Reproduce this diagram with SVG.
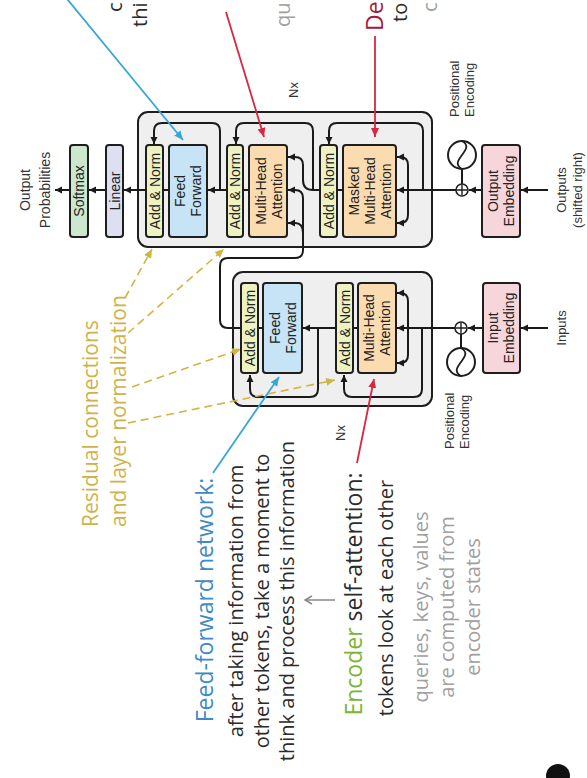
<svg xmlns="http://www.w3.org/2000/svg" width="587" height="778" viewBox="0 0 587 778">
<defs>
<style>
.bg{fill:#ffffff}
.outer{fill:#efefef;stroke:#1e1e1e;stroke-width:2}
.box{stroke:#1e1e1e;stroke-width:2}
.an{fill:#eef2c2}
.ff{fill:#c6e4f5}
.mha{fill:#fbdcb0}
.sm{fill:#cbe8cf}
.lin{fill:#dedff0}
.emb{fill:#f6d6db}
.lbl{font-family:"Liberation Sans",Arial,sans-serif;font-size:14px;fill:#222;text-anchor:middle}
.side{font-family:"Liberation Sans",Arial,sans-serif;font-size:13px;fill:#333}
.c{fill:none;stroke:#1a1a1a;stroke-width:2}
.ann{font-family:"Open Sans","Noto Sans",sans-serif;font-size:20px;fill:#2b2b2b}
.head{font-size:23px}
.gold{fill:#cfb34a}
.gray{fill:#a0a0a0}
.gl{fill:none;stroke:#d2b443;stroke-width:1.6;stroke-dasharray:8 5}
.bl{fill:none;stroke:#38a6d6;stroke-width:1.8}
.rl{fill:none;stroke:#d8283f;stroke-width:1.8}
</style>
<marker id="ah" markerUnits="userSpaceOnUse" markerWidth="8" markerHeight="8" refX="7" refY="4" orient="auto"><path d="M0,0.5 L7,4 L0,7.5 z" fill="#1a1a1a"/></marker>
<marker id="ahb" markerUnits="userSpaceOnUse" markerWidth="10" markerHeight="10" refX="9" refY="5" orient="auto"><path d="M0,1 L9,5 L0,9 z" fill="#38a6d6"/></marker>
<marker id="ahr" markerUnits="userSpaceOnUse" markerWidth="10" markerHeight="10" refX="9" refY="5" orient="auto"><path d="M0,1 L9,5 L0,9 z" fill="#d8283f"/></marker>
<marker id="ahg" markerUnits="userSpaceOnUse" markerWidth="10" markerHeight="10" refX="9" refY="5" orient="auto"><path d="M0,1 L9,5 L0,9 z" fill="#d2b443"/></marker>
<marker id="ahgr" markerUnits="userSpaceOnUse" markerWidth="10" markerHeight="10" refX="8" refY="5" orient="auto"><path d="M1,1 L8,5 L1,9" fill="none" stroke="#888" stroke-width="1.5"/></marker>
</defs>
<rect class="bg" x="0" y="0" width="587" height="778"/>

<g id="decoder-block"><rect class="outer" x="138" y="112" width="294" height="135" rx="10"/></g>
<g id="encoder-block"><rect class="outer" x="233" y="272" width="199" height="134" rx="10"/></g>

<g id="connectors">
<path class="c" d="M548,190 L521,190" marker-end="url(#ah)"/>
<path class="c" d="M482,190 L469,190" marker-end="url(#ah)"/>
<path class="c" d="M462,169 L462,184"/>
<path class="c" d="M456,190 L397,190" marker-end="url(#ah)"/>
<path class="c" d="M423,190 L423,131 Q423,123 415,123 L337,123 Q329,123 329,131 L329,144" marker-end="url(#ah)"/>
<path class="c" d="M408,190 L408,165 Q408,157 400,157 L397,157" marker-end="url(#ah)"/>
<path class="c" d="M408,190 L408,215 Q408,223 400,223 L397,223" marker-end="url(#ah)"/>
<path class="c" d="M343,190 L337,190"/>
<path class="c" d="M320,190 L313,190"/>
<path class="c" d="M313,190 L313,131 Q313,123 305,123 L244,123 Q236,123 236,131 L236,144" marker-end="url(#ah)"/>
<path class="c" d="M313,190 Q303,190 303,180 L303,165 Q303,157 295,157 L288,157" marker-end="url(#ah)"/>
<path class="c" d="M249,190 L243,190"/>
<path class="c" d="M227,190 L208,190" marker-end="url(#ah)"/>
<path class="c" d="M220,190 L220,131 Q220,123 212,123 L162,123 Q154,123 154,131 L154,144" marker-end="url(#ah)"/>
<path class="c" d="M169,190 L163,190"/>
<path class="c" d="M146,190 L124,190" marker-end="url(#ah)"/>
<path class="c" d="M106,190 L89,190" marker-end="url(#ah)"/>
<path class="c" d="M70,190 L55,190" marker-end="url(#ah)"/>
<path class="c" d="M548,328 L521,328" marker-end="url(#ah)"/>
<path class="c" d="M483,328 L468,328" marker-end="url(#ah)"/>
<path class="c" d="M461,334 L461,348"/>
<path class="c" d="M455,328 L397,328" marker-end="url(#ah)"/>
<path class="c" d="M422,328 L422,389 Q422,397 414,397 L352,397 Q344,397 344,389 L344,375" marker-end="url(#ah)"/>
<path class="c" d="M408,328 L408,301 Q408,293 400,293 L397,293" marker-end="url(#ah)"/>
<path class="c" d="M408,328 L408,355 Q408,363 400,363 L397,363" marker-end="url(#ah)"/>
<path class="c" d="M358,328 L353,328"/>
<path class="c" d="M336,328 L303,328" marker-end="url(#ah)"/>
<path class="c" d="M318,328 L318,389 Q318,397 310,397 L258,397 Q250,397 250,389 L250,375" marker-end="url(#ah)"/>
<path class="c" d="M263,328 L258,328"/>
<path class="c" d="M241,328 L228,328 Q220,328 220,320 L220,266 Q220,258 228,258 L295,258 Q303,258 303,250 L303,198 Q303,190 295,190 L288,190" marker-end="url(#ah)"/>
<path class="c" d="M303,233 Q303,223 295,223 L288,223" marker-end="url(#ah)"/>
<path class="bl" d="M63,-6 L183,140" marker-end="url(#ahb)"/>
<path class="bl" d="M213,473 L279,377" marker-end="url(#ahb)"/>
<path class="rl" d="M226,12 L264,137" marker-end="url(#ahr)"/>
<path class="rl" d="M375,36 L375,137" marker-end="url(#ahr)"/>
<path class="rl" d="M357,463 L374,379" marker-end="url(#ahr)"/>
<path class="gl" d="M125,298 L152,249" marker-end="url(#ahg)"/>
<path class="gl" d="M128,333 L224,249" marker-end="url(#ahg)"/>
<path class="gl" d="M132,387 L241,349" marker-end="url(#ahg)"/>
<path class="gl" d="M128,423 L335,380" marker-end="url(#ahg)"/>
<path d="M335,600 L305,600" fill="none" stroke="#888" stroke-width="1.5" marker-end="url(#ahgr)"/>
</g>

<g id="dec-addnorm-ff"><rect class="box an" x="146" y="145" width="17" height="92" rx="3"/><text class="lbl" transform="translate(159.5,191) rotate(-90)">Add &amp; Norm</text></g>
<g id="dec-ff"><rect class="box ff" x="169" y="145" width="38" height="92" rx="3"/><text class="lbl" transform="translate(185,191) rotate(-90)">Feed</text><text class="lbl" transform="translate(201,191) rotate(-90)">Forward</text></g>
<g id="dec-addnorm-mha"><rect class="box an" x="227" y="145" width="16" height="92" rx="3"/><text class="lbl" transform="translate(240,191) rotate(-90)">Add &amp; Norm</text></g>
<g id="dec-mha"><rect class="box mha" x="249" y="145" width="38" height="92" rx="3"/><text class="lbl" transform="translate(266,191) rotate(-90)">Multi-Head</text><text class="lbl" transform="translate(282,191) rotate(-90)">Attention</text></g>
<g id="dec-addnorm-masked"><rect class="box an" x="320" y="145" width="17" height="92" rx="3"/><text class="lbl" transform="translate(333.5,191) rotate(-90)">Add &amp; Norm</text></g>
<g id="dec-masked-mha"><rect class="box mha" x="343" y="145" width="53" height="92" rx="3"/><text class="lbl" transform="translate(358.5,191) rotate(-90)">Masked</text><text class="lbl" transform="translate(374.5,191) rotate(-90)">Multi-Head</text><text class="lbl" transform="translate(390.5,191) rotate(-90)">Attention</text></g>
<g id="linear"><rect class="box lin" x="106" y="145" width="17" height="92" rx="3"/><text class="lbl" transform="translate(119.5,191) rotate(-90)">Linear</text></g>
<g id="softmax"><rect class="box sm" x="70" y="145" width="18" height="92" rx="3"/><text class="lbl" transform="translate(84,191) rotate(-90)">Softmax</text></g>
<g id="output-embedding"><rect class="box emb" x="482" y="145" width="38" height="92" rx="3"/><text class="lbl" transform="translate(498,191) rotate(-90)">Output</text><text class="lbl" transform="translate(514,191) rotate(-90)">Embedding</text></g>
<g id="dec-pos-enc"><circle cx="462" cy="155" r="14" fill="#fff" stroke="#1e1e1e" stroke-width="2"/><path d="M462,141 C477,149 447,161 462,169" fill="none" stroke="#1e1e1e" stroke-width="1.8"/><text class="side" transform="translate(459,117) rotate(-90)">Positional</text><text class="side" transform="translate(474,117) rotate(-90)">Encoding</text></g>
<g id="dec-plus"><circle cx="462" cy="190" r="6" fill="#fff" stroke="#1e1e1e" stroke-width="1.6"/><path d="M457,190 H467 M462,185 V195" stroke="#1e1e1e" stroke-width="1.4"/></g>
<g id="dec-nx"><text class="side" text-anchor="middle" transform="translate(298,90) rotate(-90)">Nx</text></g>
<g id="outputs-label"><text class="side" text-anchor="middle" transform="translate(566,190) rotate(-90)">Outputs</text><text class="side" text-anchor="middle" transform="translate(582,190) rotate(-90)">(shifted right)</text></g>
<g id="output-probabilities"><text class="side" style="font-size:14px" text-anchor="middle" transform="translate(30,190) rotate(-90)">Output</text><text class="side" style="font-size:14px" text-anchor="middle" transform="translate(50,190) rotate(-90)">Probabilities</text></g>

<g id="enc-addnorm-ff"><rect class="box an" x="241" y="283" width="17" height="90" rx="3"/><text class="lbl" transform="translate(254.5,328) rotate(-90)">Add &amp; Norm</text></g>
<g id="enc-ff"><rect class="box ff" x="263" y="283" width="39" height="90" rx="3"/><text class="lbl" transform="translate(279.5,328) rotate(-90)">Feed</text><text class="lbl" transform="translate(295.5,328) rotate(-90)">Forward</text></g>
<g id="enc-addnorm-mha"><rect class="box an" x="336" y="283" width="17" height="90" rx="3"/><text class="lbl" transform="translate(349.5,328) rotate(-90)">Add &amp; Norm</text></g>
<g id="enc-mha"><rect class="box mha" x="358" y="283" width="38" height="90" rx="3"/><text class="lbl" transform="translate(374,328) rotate(-90)">Multi-Head</text><text class="lbl" transform="translate(390,328) rotate(-90)">Attention</text></g>
<g id="input-embedding"><rect class="box emb" x="483" y="283" width="37" height="90" rx="3"/><text class="lbl" transform="translate(498,328) rotate(-90)">Input</text><text class="lbl" transform="translate(514,328) rotate(-90)">Embedding</text></g>
<g id="enc-pos-enc"><circle cx="461" cy="362" r="14" fill="#fff" stroke="#1e1e1e" stroke-width="2"/><path d="M461,348 C476,356 446,368 461,376" fill="none" stroke="#1e1e1e" stroke-width="1.8"/><text class="side" transform="translate(454,449) rotate(-90)">Positional</text><text class="side" transform="translate(469,449) rotate(-90)">Encoding</text></g>
<g id="enc-plus"><circle cx="461" cy="328" r="6" fill="#fff" stroke="#1e1e1e" stroke-width="1.6"/><path d="M456,328 H466 M461,323 V333" stroke="#1e1e1e" stroke-width="1.4"/></g>
<g id="enc-nx"><text class="side" text-anchor="middle" transform="translate(345,433) rotate(-90)">Nx</text></g>
<g id="inputs-label"><text class="side" text-anchor="middle" transform="translate(566,328) rotate(-90)">Inputs</text></g>

<g id="note-residual"><text class="ann gold" style="font-size:21px" transform="translate(98,527) rotate(-90)">Residual connections</text><text class="ann gold" style="font-size:21px" transform="translate(126,527) rotate(-90)">and layer normalization</text></g>
<g id="note-ffn" text-anchor="middle"><text class="ann head" style="fill:#3e8ac6" transform="translate(213,600) rotate(-90)">Feed-forward network:</text><text class="ann" transform="translate(243,601) rotate(-90)">after taking information from</text><text class="ann" transform="translate(268.5,601) rotate(-90)">other tokens, take a moment to</text><text class="ann" transform="translate(294,601) rotate(-90)">think and process this information</text></g>
<g id="note-encoder" text-anchor="middle"><text class="ann head" transform="translate(362,594) rotate(-90)"><tspan style="fill:#7ab533">Encoder</tspan> self-attention:</text><text class="ann" transform="translate(393,598) rotate(-90)">tokens look at each other</text></g>
<g id="note-qkv" text-anchor="middle"><text class="ann gray" transform="translate(428,607) rotate(-90)">queries, keys, values</text><text class="ann gray" transform="translate(454,607) rotate(-90)">are computed from</text><text class="ann gray" transform="translate(480,607) rotate(-90)">encoder states</text></g>
<g id="note-top"><text class="ann" transform="translate(122,12) rotate(-90)">c</text><text class="ann" transform="translate(147,27) rotate(-90)">thi</text><text class="ann gray" transform="translate(290,27) rotate(-90)">qu</text><text class="ann head" style="fill:#a31a3c" transform="translate(383,31) rotate(-90)">De</text><text class="ann" transform="translate(407,22) rotate(-90)">to</text><text class="ann gray" transform="translate(437,12) rotate(-90)">c</text></g>
<g id="corner-mark"><circle cx="558" cy="776" r="12" fill="#111"/></g>
</svg>
